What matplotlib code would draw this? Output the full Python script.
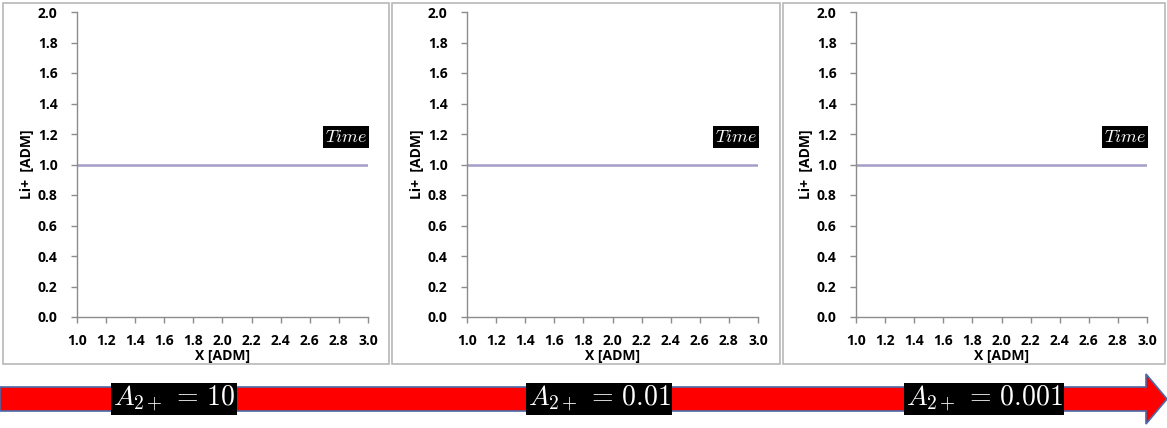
import matplotlib
matplotlib.use("Agg")
import matplotlib.pyplot as plt
from matplotlib.patches import Rectangle, FancyArrow

W, H = 1167, 428

# data
x_vals = [1.0, 3.0]
li_profiles = [[1.0, 1.0], [1.0, 1.0], [1.0, 1.0]]
a_labels = ["10", "0.01", "0.001"]
x_ticks = [1.0, 1.2, 1.4, 1.6, 1.8, 2.0, 2.2, 2.4, 2.6, 2.8, 3.0]
y_ticks = [0.0, 0.2, 0.4, 0.6, 0.8, 1.0, 1.2, 1.4, 1.6, 1.8, 2.0]

plt.rcParams["font.family"] = ["Open Sans", "DejaVu Sans"]
plt.rcParams["mathtext.fontset"] = "cm"

fig = plt.figure(figsize=(W / 100, H / 100), dpi=100)


def frac(x0, y0, x1, y1):
    # pixel box (top-left origin) -> figure fractions
    return [x0 / W, 1 - y1 / H, (x1 - x0) / W, (y1 - y0) / H]


borders = [(3, 3, 389, 364), (392, 3, 780, 364), (783, 3, 1165, 364)]
axes_px = [(77, 12, 368, 317), (467, 12, 758, 317), (856, 12, 1147, 317)]

for (bx0, by0, bx1, by1), (ax0, ay0, ax1, ay1), prof in zip(borders, axes_px, li_profiles):
    fig.patches.append(Rectangle((bx0 / W, 1 - by1 / H), (bx1 - bx0) / W, (by1 - by0) / H,
                                 transform=fig.transFigure, fill=False,
                                 edgecolor="#b8b8b8", linewidth=1.2))
    ax = fig.add_axes(frac(ax0, ay0, ax1, ay1))
    ax.plot(x_vals, prof, color="#a59cc8", linewidth=1.8)
    ax.set_xlim(1.0, 3.0)
    ax.set_ylim(0.0, 2.0)
    ax.set_xticks(x_ticks)
    ax.set_yticks(y_ticks)
    ax.set_xticklabels([f"{v:.1f}" for v in x_ticks], fontweight="bold", fontsize=10)
    ax.set_yticklabels([f"{v:.1f}" for v in y_ticks], fontweight="bold", fontsize=10)
    for s in ["top", "right"]:
        ax.spines[s].set_visible(False)
    for s in ["left", "bottom"]:
        ax.spines[s].set_color("#8c8c8c")
        ax.spines[s].set_linewidth(1.0)
    ax.tick_params(direction="out", length=4, width=1.0, color="#8c8c8c")
    ax.tick_params(axis="x", pad=8)
    ax.tick_params(axis="y", pad=10)
    ax.set_xlabel("X [ADM]", fontweight="bold", fontsize=10, labelpad=1)
    ax.set_ylabel("Li+  [ADM]", fontweight="bold", fontsize=10, labelpad=3)
    ax.text(2.995, 1.18, r"$Time$", ha="right", va="center", color="white", fontsize=13,
            bbox=dict(facecolor="black", edgecolor="none", pad=1.5))

# arrow along the bottom
ov = fig.add_axes([0, 0, 1, 1])
ov.set_xlim(0, W)
ov.set_ylim(H, 0)
ov.axis("off")
ov.add_patch(FancyArrow(0, 399, 1167, 0, width=24, head_width=50, head_length=21,
                        length_includes_head=True, facecolor="#ff0000",
                        edgecolor="#4a6aa8", linewidth=1.2))

label_x = [174, 599, 984]
for lx, val in zip(label_x, a_labels):
    ov.text(lx, 399, r"$A_{2+}\,=\,$" + r"$" + val + r"$", ha="center", va="center",
            color="white", fontsize=20,
            bbox=dict(facecolor="black", edgecolor="none", pad=1))

fig.savefig("out.png", dpi=100)
